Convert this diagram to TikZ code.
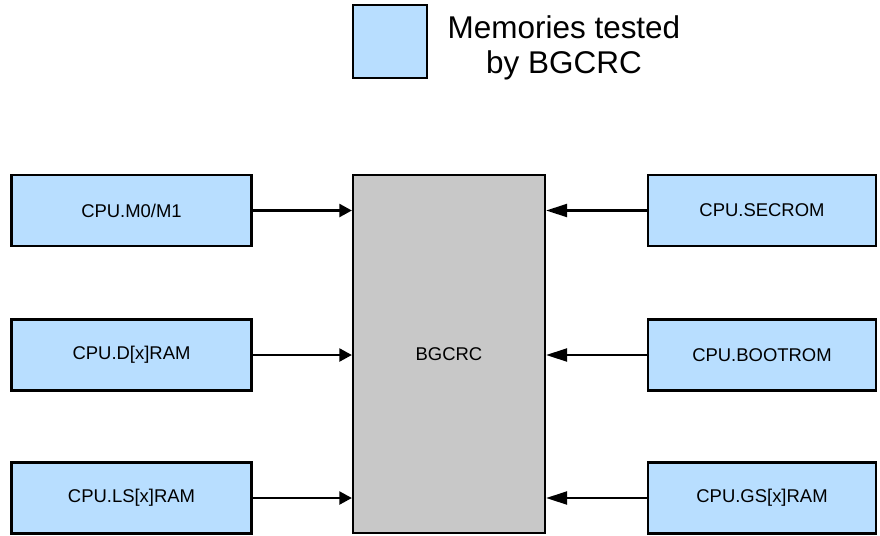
\documentclass[tikz,border=0pt]{standalone}
\usepackage{fontspec}
\setmainfont{Liberation Sans}
\usetikzlibrary{arrows.meta,positioning}
\definecolor{memblue}{RGB}{184,222,255}
\definecolor{crcgrey}{RGB}{200,200,200}

\begin{document}
\begin{tikzpicture}[every node/.style={font=\fontsize{10.5}{12}\selectfont},
  membox/.style={draw, line width=1.3pt, fill=memblue, minimum height=1.42cm, inner sep=0pt},
  feed/.style={line width=1.3pt, -{Triangle[length=2.5mm, width=2.6mm]}},
  feedlong/.style={line width=1.3pt, -{Triangle[length=4.2mm, width=2.6mm]}}]
  % frame of the whole picture (y runs downwards as negative)
  \useasboundingbox (0,0) rectangle (17.6,-10.7);
  % legend
  \node[membox, minimum width=1.48cm, minimum height=1.46cm] (key) at (7.8,-0.83) {};
  \node[align=center, font=\fontsize{17.9}{19.8}\selectfont] (keytxt) at (11.28,-0.96) {Memories tested\\by BGCRC};
  % checker in the middle
  \node[draw, line width=1.3pt, fill=crcgrey, minimum width=3.84cm, minimum height=7.16cm, inner sep=0pt] (bgcrc) at (8.98,-7.08) {BGCRC};
  % memories on the left
  \node[membox, minimum width=4.8cm] (m0m1) at (2.63,-4.21) {CPU.M0/M1};
  \node[membox, minimum width=4.8cm] (dxram) at (2.63,-7.1) {CPU.D[x]RAM};
  \node[membox, minimum width=4.8cm] (lsxram) at (2.63,-9.96) {CPU.LS[x]RAM};
  % memories on the right
  \node[membox, minimum width=4.56cm] (secrom) at (15.24,-4.21) {CPU.SECROM};
  \node[membox, minimum width=4.56cm] (bootrom) at (15.24,-7.1) {CPU.BOOTROM};
  \node[membox, minimum width=4.56cm] (gsxram) at (15.24,-9.96) {CPU.GS[x]RAM};
  % connections into BGCRC
  \foreach \m in {m0m1,dxram,lsxram}
    \draw[feed] (\m.east) -- (\m.east -| bgcrc.west);
  \foreach \m in {secrom,bootrom,gsxram}
    \draw[feedlong] (\m.west) -- (\m.west -| bgcrc.east);
\end{tikzpicture}
\end{document}
